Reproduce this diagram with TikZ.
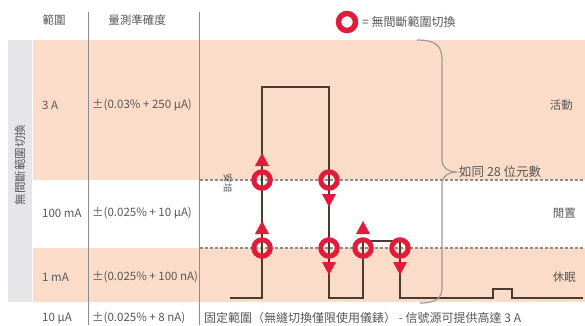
\documentclass[tikz,border=0pt]{standalone}
\usepackage{fontspec}
\setmainfont{Noto Sans CJK TC}
\definecolor{peach}{HTML}{FADCC8}
\definecolor{sidegrey}{HTML}{E6E6E8}
\definecolor{rulegrey}{HTML}{8C8C8C}
\definecolor{bracegrey}{HTML}{9A9A9A}
\definecolor{wave}{HTML}{4A3B33}
\definecolor{ringred}{HTML}{E31B3B}
\definecolor{txt}{HTML}{585858}
\tikzset{
  ring/.style={circle, draw=ringred, line width=5pt, minimum size=16.5pt, inner sep=0pt},
  lbl/.style={text=txt, font=\fontsize{11.5}{13}\selectfont, inner sep=0pt},
  dotline/.style={rulegrey, dash pattern=on 2.5pt off 2.5pt, line width=1.3pt},
  vrule/.style={rulegrey, line width=0.8pt},
  wavestyle/.style={wave, line width=2.2pt},
}
\newcommand\uptri[1]{\fill[ringred] ([shift={(-7,-14)}]#1.center) -- ([shift={(7,-14)}]#1.center) -- ([shift={(0,-27)}]#1.center) -- cycle;}
\newcommand\downtri[1]{\fill[ringred] ([shift={(-7,14)}]#1.center) -- ([shift={(7,14)}]#1.center) -- ([shift={(0,27)}]#1.center) -- cycle;}
\begin{document}
\begin{tikzpicture}[x=1pt,y=-1pt]
\useasboundingbox (0,0) rectangle (585,325);
\fill[white] (0,0) rectangle (585,325);
% backgrounds
\fill[sidegrey] (8,40) rectangle (32,302);
\fill[peach] (33,40) rectangle (585,180);
\fill[peach] (33,248) rectangle (585,302);
% column rules
\draw[vrule] (88,12) -- (88,325);
\draw[vrule] (199,12) -- (199,325);
% dotted level lines
\draw[dotline] (200,180) -- (585,180);
\draw[dotline] (200,248) -- (585,248);
% waveform
\draw[wavestyle] (230,298) -| (262,87) -| (329,298) -| (363,241) -| (400,298) -| (493,289) -| (512,298) -- (583,298);
% rings
\node[ring] (r1) at (262,180) {};
\node[ring] (r2) at (329,180) {};
\node[ring] (r3) at (262,248) {};
\node[ring] (r4) at (329,248) {};
\node[ring] (r5) at (363,248) {};
\node[ring] (r6) at (400,248) {};
\uptri{r1}
\downtri{r2}
\uptri{r3}
\downtri{r4}
\uptri{r5}
\downtri{r6}
% brace
\draw[bracegrey, line width=1.2pt] (417,40) .. controls (436,40) and (442,46) .. (442,60) -- (442,160) .. controls (442,168) and (449,172) .. (456,172) .. controls (449,172) and (442,176) .. (442,184) -- (442,288) .. controls (442,298) and (436,303) .. (420,303);
\node[lbl, anchor=west, font=\fontsize{12.5}{14}\selectfont] (brl) at (459,172) {如同 28 位元數};
% legend
\node[circle, draw=ringred, line width=5.5pt, minimum size=17pt, inner sep=0pt] (leg) at (347,22) {};
\node[lbl, anchor=west, font=\fontsize{12}{14}\selectfont] (legt) at (362,22) {= 無間斷範圍切換};
% headers
\node[lbl] (h1) at (54,20) {範圍};
\node[lbl] (h2) at (137,20) {量測準確度};
% side label
\node[lbl] [rotate=90] (side) at (20,165) {無間斷範圍切換};
% rows
\node[lbl, anchor=west] (a1) at (42,105) {3 A};
\node[lbl, anchor=west] (a2) at (42,213) {100 mA};
\node[lbl, anchor=west] (a3) at (42,277) {1 mA};
\node[lbl, anchor=west] (a4) at (42,318) {10 µA};
\node[lbl, anchor=west] (b1) at (92,105) {±(0.03\% + 250 µA)};
\node[lbl, anchor=west] (b2) at (92,213) {±(0.025\% + 10 µA)};
\node[lbl, anchor=west] (b3) at (92,277) {±(0.025\% + 100 nA)};
\node[lbl, anchor=west] (b4) at (92,318) {±(0.025\% + 8 nA)};
% right labels
\node[lbl, anchor=east] (m1) at (573,105) {活動};
\node[lbl, anchor=east] (m2) at (576,213) {閒置};
\node[lbl, anchor=east] (m3) at (576,277) {休眠};
% small rotated label
\node[text=txt, font=\fontsize{9.5}{10}\selectfont, rotate=-90, inner sep=0pt] (amp) at (228,183) {安培};
% bottom line
\node[lbl, anchor=west, font=\fontsize{12}{14}\selectfont] (foot) at (204,318) {固定範圍（無縫切換僅限使用儀錶） - 信號源可提供高達 3 A};
\end{tikzpicture}
\end{document}
